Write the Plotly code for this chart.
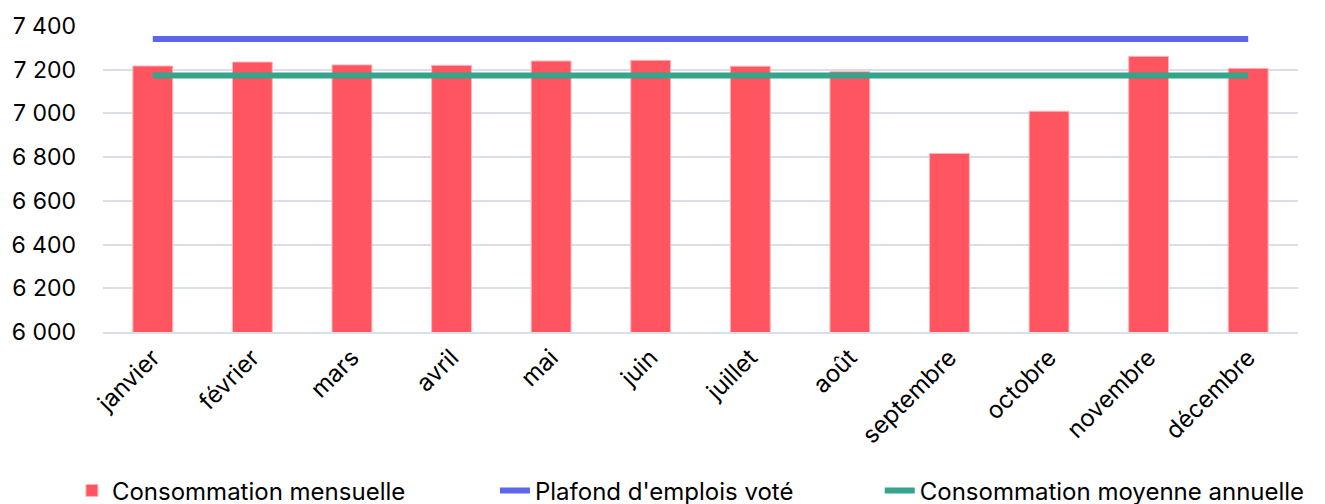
import plotly.graph_objects as go

mois = ["janvier", "février", "mars", "avril", "mai", "juin", "juillet", "août",
        "septembre", "octobre", "novembre", "décembre"]
consommation_mensuelle = [7217, 7235, 7222, 7220, 7240, 7243, 7216, 7191, 6817, 7010, 7261, 7206]
plafond_emplois = [7340] * 12
consommation_moyenne = [7173] * 12
y_ticks = [6000, 6200, 6400, 6600, 6800, 7000, 7200, 7400]

FONT = "Inter"
RED = "#FF5560"
BLUE = "#5F66EE"
GREEN = "#34A58A"

fig = go.Figure()
fig.add_trace(go.Bar(
    x=mois, y=consommation_mensuelle, name="Consommation mensuelle",
    marker=dict(color=RED, line=dict(color="#FFB3B8", width=1)),
    legend="legend",
))
fig.add_trace(go.Scatter(
    x=mois, y=plafond_emplois, name="Plafond d'emplois voté", mode="lines",
    line=dict(color=BLUE, width=6), legend="legend2",
))
fig.add_trace(go.Scatter(
    x=mois, y=consommation_moyenne, name="Consommation moyenne annuelle", mode="lines",
    line=dict(color=GREEN, width=6), legend="legend3",
))

leg_common = dict(orientation="h", yref="container", yanchor="middle", y=0.042,
                  xanchor="left",
                  font=dict(family=FONT, size=24, color="#000000"),
                  bgcolor="rgba(0,0,0,0)")

fig.update_layout(
    width=1325, height=504,
    margin=dict(l=95, r=35, t=18, b=180, autoexpand=False),
    plot_bgcolor="white", paper_bgcolor="white",
    bargap=0.6,
    separators=", ",
    font=dict(family=FONT, size=20, color="#000000"),
    legend=dict(x=-0.026, **leg_common),
    legend2=dict(x=0.328, **leg_common),
    legend3=dict(x=0.65, **leg_common),
    xaxis=dict(
        tickangle=-45, showgrid=False, showline=True, linecolor="#D9DFE8", linewidth=2,
        ticks="", automargin=False, tickfont=dict(family=FONT, size=24, color="#000000"),
    ),
    yaxis=dict(
        range=[6000, 7400], tickvals=y_ticks, tickformat=",d",
        showgrid=True, gridcolor="#D9DFE8", gridwidth=2, zeroline=False,
        ticks="", ticklabelstandoff=26, automargin=False,
        tickfont=dict(family=FONT, size=23, color="#000000"),
    ),
    showlegend=True,
)

fig.write_html("out.html")
